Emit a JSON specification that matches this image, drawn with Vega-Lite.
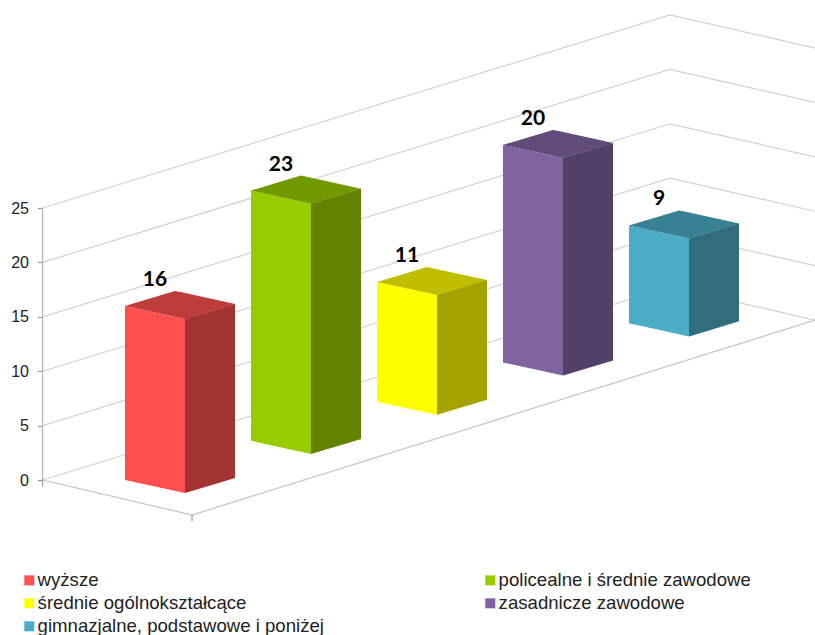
{
"$schema":"https://vega.github.io/schema/vega-lite/v6.json",
"width":815,"height":635,"padding":0,"autosize":{"type":"none"},
"background":"white",
"config":{"view":{"stroke":null}},
"datasets":{
"bars":[
{"category":"wyższe","value":16},
{"category":"policealne i średnie zawodowe","value":23},
{"category":"średnie ogólnokształcące","value":11},
{"category":"zasadnicze zawodowe","value":20},
{"category":"gimnazjalne, podstawowe i poniżej","value":9}
],
"ticks":[{"tick":0},{"tick":5},{"tick":10},{"tick":15},{"tick":20},{"tick":25}],
"floor":[{"corner":"left"},{"corner":"front"},{"corner":"right"}]
},
"encoding":{
"x":{"field":"x","type":"quantitative","axis":null,"scale":{"domain":[-0.992,5.476],"nice":false,"zero":false}},
"y":{"field":"y","type":"quantitative","stack":null,"scale":{"domain":[-14.246,44.118],"nice":false,"zero":false},
"axis":{"title":null,"values":[0,5,10,15,20,25],"offset":-42.5,"domain":false,"grid":false,"tickSize":5,"tickColor":"#999999","tickWidth":1.2,"labelFont":"Liberation Sans","labelFontSize":16,"labelColor":"#222222","labelPadding":9}}
},
"layer":[
{"data":{"name":"ticks"},
"transform":[
{"fold":["left","back","right"],"as":["corner","unused"]},
{"calculate":"{left:-0.654,back:4.325,right:5.476}[datum.corner]","as":"x"},
{"calculate":"datum.tick+{left:0,back:17.74,right:14.7}[datum.corner]","as":"y"}],
"mark":{"type":"line","stroke":"#D2D2D2","strokeWidth":1.2},
"encoding":{"detail":{"field":"tick"}}},
{"data":{"name":"ticks"},
"transform":[{"calculate":"-0.654","as":"x"},{"calculate":"datum.tick","as":"y"}],
"mark":{"type":"line","stroke":"#B4B4B4","strokeWidth":1.2}},
{"data":{"name":"floor"},
"transform":[
{"calculate":"{left:-0.654,front:0.532,right:5.476}[datum.corner]","as":"x"},
{"calculate":"{left:0,front:-3.217,right:14.7}[datum.corner]","as":"y"}],
"mark":{"type":"line","stroke":"#C4C4C4","strokeWidth":1.2}},
{"data":{"name":"floor"},
"transform":[
{"filter":"datum.corner!='right'"},
{"calculate":"{left:-0.654,front:0.532}[datum.corner]","as":"x"},
{"calculate":"{left:0,front:-3.217}[datum.corner]","as":"y"},
{"calculate":"datum.y-0.6","as":"y_end"}],
"mark":{"type":"rule","stroke":"#999999","strokeWidth":1.2},
"encoding":{"y2":{"field":"y_end"}}},
{"data":{"name":"bars"},
"transform":[
{"calculate":"indexof(['wyższe','policealne i średnie zawodowe','średnie ogólnokształcące','zasadnicze zawodowe','gimnazjalne, podstawowe i poniżej'],datum.category)","as":"i"},
{"fold":["front0","front1","side0","side1","top0","top1","top2","top3"],"as":["corner","unused"]},
{"calculate":"slice(datum.corner,0,-1)","as":"face"},
{"calculate":"datum.category+datum.face","as":"part"},
{"calculate":"datum.i+{front0:0,front1:0.476,side0:0.476,side1:0.873,top0:0,top1:0.397,top2:0.476,top3:0.873}[datum.corner]","as":"x"},
{"calculate":"3.6*datum.i+{front0:0,front1:-1.2,side0:-1.2,side1:0.18,top0:0,top1:0,top2:0,top3:0}[datum.corner]","as":"floor"},
{"calculate":"datum.floor+datum.value+{front0:0,front1:0,side0:0,side1:0,top0:0,top1:1.38,top2:1.18,top3:0.18}[datum.corner]","as":"y"},
{"calculate":"datum.face=='top'?datum.floor+datum.value+{top0:0,top1:-1.0,top2:-1.2,top3:0.18}[datum.corner]:datum.floor","as":"y_low"}
],
"layer":[
{"mark":{"type":"area","orient":"vertical","line":false},
"encoding":{
"y2":{"field":"y_low"},
"detail":{"field":"part"},
"fill":{"field":"category","type":"nominal","scale":{
"domain":["wyższe","policealne i średnie zawodowe","średnie ogólnokształcące","zasadnicze zawodowe","gimnazjalne, podstawowe i poniżej"],
"range":["#FF5050","#99CC00","#FFFF00","#8064A2","#4BACC6"]},
"legend":{"title":null,"orient":"none","legendX":20,"legendY":571,"direction":"horizontal","columns":2,"symbolType":"square","symbolSize":100,"symbolStrokeWidth":0,"labelFont":"Liberation Sans","labelFontSize":18.6,"labelColor":"#222222","labelOffset":-1,"rowPadding":4,"columnPadding":157,"labelLimit":400,"gridAlign":"each","symbolOpacity":1}}}},
{"transform":[{"filter":"datum.face=='top'"}],
"mark":{"type":"area","orient":"vertical","line":false,"fill":"#000000","fillOpacity":0.25},
"encoding":{"y2":{"field":"y_low"},"detail":{"field":"part"}}},
{"transform":[{"filter":"datum.face=='side'"}],
"mark":{"type":"area","orient":"vertical","line":false,"fill":"#000000","fillOpacity":0.36},
"encoding":{"y2":{"field":"y_low"},"detail":{"field":"part"}}},
{"transform":[{"filter":"datum.corner=='top0'"}],
"mark":{"type":"text","dx":30,"dy":-26,"font":"Lato","fontWeight":"bold","fontSize":21,"fill":"#000000","align":"center","baseline":"middle"},
"encoding":{"text":{"field":"value","type":"quantitative"}}}
]}
]
}
